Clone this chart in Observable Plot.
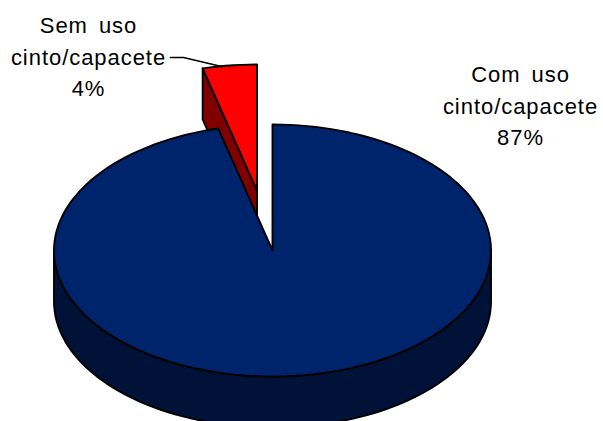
<!DOCTYPE html>
<html>
<head>
<meta charset="utf-8">
<script src="https://cdn.jsdelivr.net/npm/d3@7"></script>
<script src="https://cdn.jsdelivr.net/npm/@observablehq/plot@0.6"></script>
<style>html,body{margin:0;padding:0;background:#fff;overflow:hidden}</style>
</head>
<body>
<div id="chart"></div>
<script>
const categories = ["Com uso cinto/capacete", "Sem uso cinto/capacete"];
const shares = [96, 4];
const percentLabels = ["87%", "4%"];
const topColors = ["#00246B", "#FF0000"];
const sideColors = ["#001238", "#800000"];

const W = 603, H = 421;
const cx = 272, cy = 250, rx = 218.5, ry = 126, depth = 51;
const explode = [[0, 0], [-15.5, -60]];

const total = d3.sum(shares);
let acc = 0;
const slices = shares.map((v, i) => {
  const a0 = acc / total * 2 * Math.PI;
  acc += v;
  const a1 = acc / total * 2 * Math.PI;
  return {a0, a1, ox: explode[i][0], oy: explode[i][1]};
});
const pt = (a, s, z = 0) => ({x: cx + s.ox + rx * Math.sin(a), y: cy + s.oy - ry * Math.cos(a) + z});
const centre = (s, z = 0) => ({x: cx + s.ox, y: cy + s.oy + z});
const arc = (s, a0, a1, z = 0) => {
  const n = Math.max(2, Math.ceil(Math.abs(a1 - a0) / 0.04));
  return d3.range(n + 1).map(k => pt(a0 + (a1 - a0) * k / n, s, z));
};
const sliceFace = s => [centre(s), ...arc(s, s.a0, s.a1), centre(s)];
const shape = (pts, fill) => Plot.line(pts, {x: "x", y: "y", fill, stroke: "#000", strokeWidth: 1.9, strokeLinejoin: "round"});

const [blue, red] = slices;
const blueWall = [...arc(blue, Math.PI / 2, 3 * Math.PI / 2), ...arc(blue, 3 * Math.PI / 2, Math.PI / 2, depth)];
blueWall.push(blueWall[0]);
const redCut = [centre(red), pt(red.a0, red), pt(red.a0, red, depth), centre(red, depth), centre(red)];

const leader = [{x: 170, y: 57}, {x: 183, y: 57}, {x: 221, y: 66}];
const labels = [
  {text: categories[0].replace(" cinto", "\ncinto") + "\n" + percentLabels[0], x: 520, y: 103},
  {text: categories[1].replace(" cinto", "\ncinto") + "\n" + percentLabels[1], x: 88, y: 54}
];

const chart = Plot.plot({
  width: W, height: H,
  margin: 0,
  x: {domain: [0, W], range: [0, W], axis: null},
  y: {domain: [0, H], range: [0, H], axis: null},
  style: {background: "#fff", fontFamily: "'Liberation Sans', Arial, sans-serif", letterSpacing: "0.95px", wordSpacing: "4px"},
  marks: [
    shape(redCut, sideColors[1]),
    shape(blueWall, sideColors[0]),
    shape(sliceFace(blue), topColors[0]),
    shape(sliceFace(red), topColors[1]),
    Plot.line(leader, {x: "x", y: "y", stroke: "#000", strokeWidth: 1.7}),
    Plot.text(labels, {x: "x", y: "y", text: "text", fontSize: 22, lineHeight: 1.43, fill: "#000", textAnchor: "middle"})
  ]
});
document.getElementById("chart").appendChild(chart);
</script>
</body>
</html>
